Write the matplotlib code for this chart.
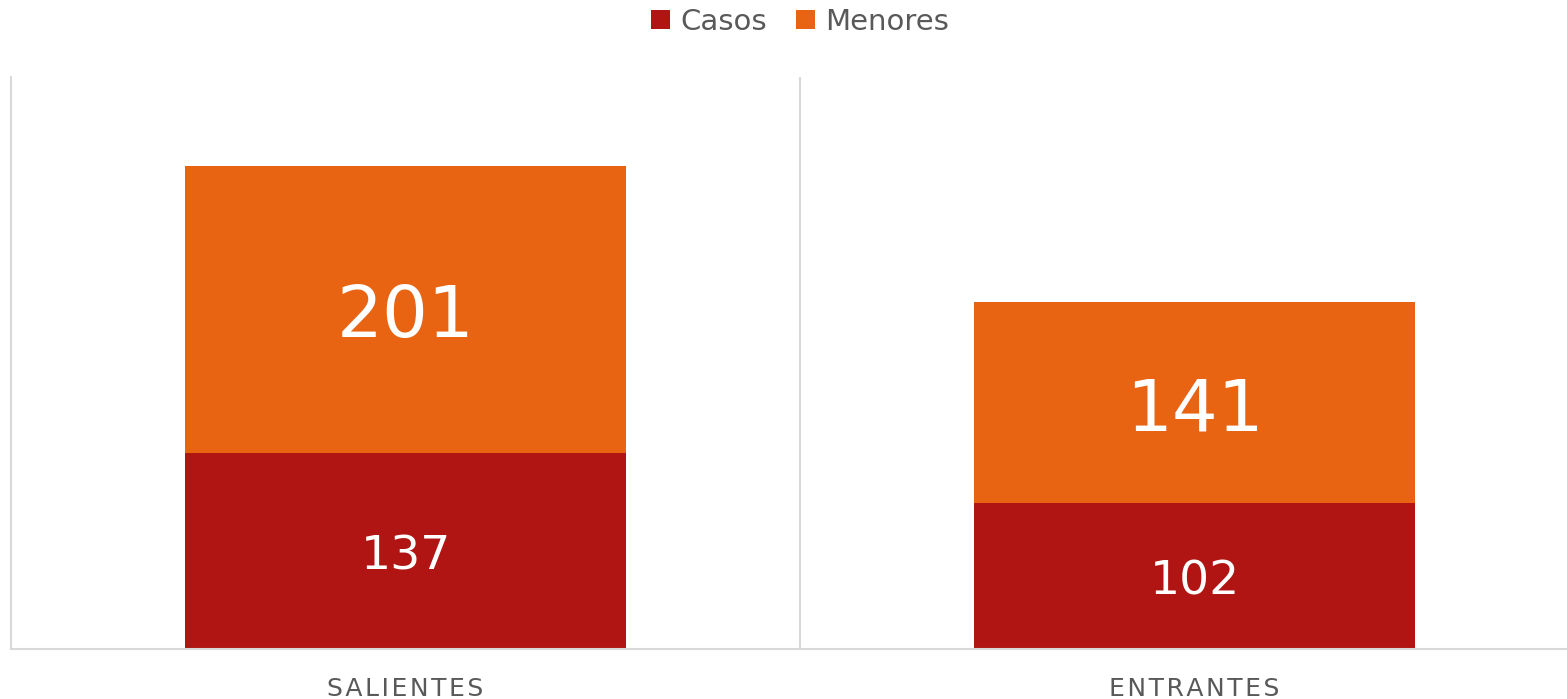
import matplotlib
matplotlib.use("Agg")
import matplotlib.pyplot as plt
import numpy as np

categories = ["SALIENTES", "ENTRANTES"]
casos = [137, 102]
menores = [201, 141]

RED, ORANGE, GREY, GRID = "#b01513", "#e86412", "#595959", "#d9d9d9"
W, H = 1567, 699

fig = plt.figure(figsize=(W / 100, H / 100), dpi=100)
# axes runs past the right edge of the picture, as in the original
ax = fig.add_axes([11 / W, 50 / H, (1589 - 11) / W, (649 - 77) / H])
x = np.arange(len(categories))
b1 = ax.bar(x, casos, width=0.558, color=RED, label="Casos")
b2 = ax.bar(x, menores, width=0.558, bottom=casos, color=ORANGE, label="Menores")
ax.set_xlim(-0.5, len(categories) - 0.5)
ax.set_ylim(0, 400)

for i, (c, m) in enumerate(zip(casos, menores)):
    ax.text(i, c / 2 - 4, str(c), ha="center", va="center", color="white", fontsize=34)
    ax.text(i, c + m / 2 - 6, str(m), ha="center", va="center", color="white", fontsize=52)

for s in ["top", "right"]:
    ax.spines[s].set_visible(False)
for s in ["left", "bottom"]:
    ax.spines[s].set_color(GRID); ax.spines[s].set_linewidth(1.5)
ax.axvline(0.5, color=GRID, lw=1.5)
ax.set_yticks([])
ax.set_xticks(x)
ax.set_xticklabels(["\u200a".join(c) for c in categories], color=GREY, fontsize=18)
ax.tick_params(axis="x", length=0, pad=20)

fig.legend(handles=[b1, b2], loc="center", bbox_to_anchor=(800 / W, 1 - 22 / H), ncol=2,
           frameon=False, fontsize=21, labelcolor=GREY, handlelength=0.65, handleheight=0.65,
           handletextpad=0.35, columnspacing=1.0, borderpad=0)
fig.savefig("out.png", dpi=100)
